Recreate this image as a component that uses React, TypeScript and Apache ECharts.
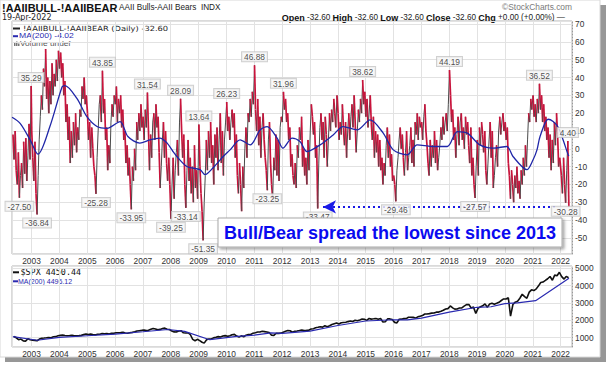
import React, { useEffect, useRef } from "react";
import * as echarts from "echarts";

// ---- AAII Bulls - Bears spread, read roughly every two weeks per calendar year ----
const spread2002 = [8, -6, 10, -12, -20, -2, -27.5, -15, -8, -22, 4, -14, 6, -18, -4, 14, -6, 35.29];
const spread2003 = [10, -5, -18, 4, -25, -36.84, -15, 5, 18, 30, 22, 45, 35, 56, 28, 40, 20, 38, 25, 48, 30, 42, 35, 50, 38, 55];
const spread2004 = [45, 54, 40, 48, 30, 38, 15, 25, 5, 18, -8, 10, -5, 15, 2, 20, -2, 12, 5, 22, 18, 35, 28, 40, 25, 30];
const spread2005 = [20, 5, 15, -5, 12, 0, -10, -15, -25.28, -5, 10, 25, 30, 15, 43.85, 20, 28, 5, 12, -12, 2, -8, 15, 25, 18, 30];
const spread2006 = [25, 35, 15, 28, 20, 30, 12, 22, 5, 10, -8, 2, -15, -5, -20, -33.95, -10, -18, 0, -12, 15, 5, 20, 10, 25, 12];
const spread2007 = [18, 5, 22, 12, 31.54, 10, -12, 8, -5, 15, 20, 5, 25, 12, 18, -2, -22, -10, 5, 15, -5, 10, -8, -18, -5, -20];
const spread2008 = [-39.25, -20, -5, -28, -12, -2, 5, -15, 15, 28.09, 10, -5, 8, -20, -33.14, -12, 5, -18, -5, -25, -10, -30, 2, -22, -12, -28];
const spread2009 = [13.64, -10, -25, -35, -51.35, -30, -15, 5, -12, 10, -5, 15, -8, 2, -20, 8, -5, 12, -12, 5, 20, -8, 10, -15, 5, 15];
const spread2010 = [26.23, 10, 18, 5, 15, 22, 12, 20, -5, 8, -15, -25, -8, -20, -35, -10, -22, 0, 12, -5, 20, 15, 28, 18, 32, 25];
const spread2011 = [46.88, 22, 10, 28, 2, 18, -5, 12, 20, 5, -5, -12, -23.25, 5, 15, -8, -20, -28, -5, -12, 8, -15, 5, -18, 12, 18];
const spread2012 = [15, 31.96, 22, 28, 15, 20, 5, 12, -10, -3, -15, -20, -8, -22, 2, -5, 12, 5, 18, -10, 0, -15, -5, -20, 5, -12];
const spread2013 = [10, 25, 18, 8, 15, -5, 2, -33.47, -8, 12, 20, 5, 15, -5, 18, 8, -10, 5, 20, 10, 22, 15, 28, 20, 12, 30];
const spread2014 = [20, 5, 15, 8, 25, 12, 2, 15, -5, 10, 20, 5, 18, 25, 12, 30, 15, -2, 10, 22, 15, 28, 20, 38.62, 25, 32];
const spread2015 = [18, 28, 12, 20, 30, 15, 5, 18, -5, 10, -2, 8, -10, 5, -12, -5, -20, -8, -15, 2, 12, -5, 8, -10, -3, -18];
const spread2016 = [-15, -20, -29.46, -12, -5, 5, 12, 0, 8, -5, -15, -2, 10, -12, -5, 2, 12, -8, 5, -10, 15, 8, 20, 5, 18, 12];
const spread2017 = [15, 5, 18, 25, 10, 2, -8, -15, 5, -10, 2, -5, 10, -8, 5, -12, -5, 2, 12, 5, 18, 8, 15, 20, 10, 25];
const spread2018 = [44.19, 30, 15, 22, 5, 12, -5, 8, 18, 2, 15, 20, 5, 12, 0, 18, 8, 15, 2, -8, 12, -15, -5, -20, -27.57, -10];
const spread2019 = [5, -15, 12, 2, 15, 8, -2, 10, -12, -20, -8, 5, 15, -5, 10, -22, -15, -5, 2, -10, 10, 18, 8, 15, 20, 10];
const spread2020 = [15, 5, 12, -8, -15, -28, -12, -20, -30, -15, -22, -10, -25, -18, -28, -12, -20, -5, -15, 2, -10, 5, 20, 15, 28, 22];
const spread2021 = [30, 18, 25, 15, 28, 20, 36.52, 22, 30, 15, 25, 10, 18, 5, 12, -5, 8, -12, 5, -8, 15, 2, 20, 8, -10, -5];
const spread2022 = [-15, -25, -5, -20, -30.28, -12, 4.4, -32.6];

const spreadByYear: [number, number[]][] = [
  [2002, spread2002], [2003, spread2003], [2004, spread2004], [2005, spread2005],
  [2006, spread2006], [2007, spread2007], [2008, spread2008], [2009, spread2009],
  [2010, spread2010], [2011, spread2011], [2012, spread2012], [2013, spread2013],
  [2014, spread2014], [2015, spread2015], [2016, spread2016], [2017, spread2017],
  [2018, spread2018], [2019, spread2019], [2020, spread2020], [2021, spread2021],
  [2022, spread2022],
];
// first reading (day of year) for partial years; full years start Jan 4
const spreadFirstDay: Record<number, number> = { 2002: 122, 2022: 10 };

// MA(200) of the spread (decimal year, value)
const spreadMaYears = [2002.3, 2002.59, 2002.95, 2003.23, 2003.66, 2004.1, 2004.2, 2004.63, 2004.99, 2005.35, 2005.71, 2006.18, 2006.46, 2006.89, 2007.25, 2007.61, 2007.87, 2008.08, 2008.22, 2008.58, 2009.05, 2009.23, 2009.52, 2009.88, 2010.13, 2010.49, 2010.85, 2011.21, 2011.46, 2011.82, 2012.03, 2012.36, 2012.64, 2012.89, 2013.36, 2013.83, 2014.19, 2014.69, 2015.16, 2015.63, 2015.99, 2016.49, 2016.85, 2017.42, 2017.93, 2018.29, 2018.65, 2019.1, 2019.57, 2020.07, 2020.29, 2020.79, 2021.01, 2021.15, 2021.26, 2021.55, 2021.73, 2021.91, 2022.09, 2022.27, 2022.3];
const spreadMaValues = [17.7, 14.3, 5.0, -3.0, 12.5, 34.8, 35.5, 28.3, 18, 12.5, 11.5, 15.3, 6.9, 3.2, 5, 6, 3.2, -1.5, -4.3, -9.9, -11.7, -14.5, -10.6, -4.3, -0.6, 5, 2.2, 10.6, 12.5, 6, 0.4, 6, 4.1, -1.5, 2.2, 7.8, 12.5, 10.6, 16.2, 8.8, -0.6, -3.4, 2.2, 1.3, 1.3, 9.7, 8.8, 2.2, 0.4, 1.3, -4.3, -11.7, -6.1, -0.6, 6.9, 16.6, 15.3, 12.1, 5, -3.4, -4.02];

// zig-zag callouts shown on the chart
const calloutValues = [35.29, 43.85, 31.54, 28.09, 13.64, 26.23, 46.88, 31.96, 38.62, 44.19, 36.52, 4.4,
  -27.5, -36.84, -25.28, -33.95, -39.25, -33.14, -51.35, -23.25, -33.47, -29.46, -27.57, -30.28];

// ---- S&P 500 monthly ----
const spx2002 = [1067, 990, 880, 916, 815, 800, 936, 880];
const spx2003 = [855, 841, 820, 916, 963, 975, 990, 1008, 996, 1050, 1058, 1112];
const spx2004 = [1131, 1145, 1126, 1107, 1121, 1141, 1101, 1104, 1115, 1130, 1174, 1212];
const spx2005 = [1181, 1204, 1181, 1157, 1192, 1191, 1234, 1220, 1229, 1207, 1249, 1248];
const spx2006 = [1280, 1281, 1295, 1311, 1270, 1250, 1277, 1304, 1336, 1378, 1401, 1418];
const spx2007 = [1438, 1407, 1421, 1482, 1531, 1503, 1455, 1474, 1527, 1549, 1481, 1468];
const spx2008 = [1379, 1331, 1323, 1386, 1400, 1280, 1267, 1283, 1166, 900, 820, 903];
const spx2009 = [826, 735, 683, 873, 919, 919, 987, 1021, 1057, 1036, 1096, 1115];
const spx2010 = [1074, 1104, 1169, 1187, 1089, 1031, 1102, 1049, 1141, 1183, 1181, 1258];
const spx2011 = [1286, 1327, 1326, 1364, 1345, 1321, 1292, 1140, 1131, 1253, 1247, 1258];
const spx2012 = [1312, 1366, 1408, 1398, 1310, 1362, 1379, 1407, 1441, 1412, 1416, 1426];
const spx2013 = [1498, 1515, 1569, 1598, 1631, 1606, 1686, 1633, 1682, 1757, 1806, 1848];
const spx2014 = [1783, 1859, 1872, 1884, 1924, 1960, 1931, 2003, 1972, 2018, 2068, 2059];
const spx2015 = [1995, 2105, 2068, 2086, 2107, 2063, 2104, 1900, 1920, 2079, 2080, 2044];
const spx2016 = [1880, 1850, 2060, 2065, 2097, 2099, 2174, 2171, 2168, 2126, 2199, 2239];
const spx2017 = [2279, 2364, 2363, 2384, 2412, 2423, 2470, 2472, 2519, 2575, 2648, 2674];
const spx2018 = [2824, 2714, 2641, 2648, 2705, 2718, 2816, 2902, 2914, 2712, 2760, 2400];
const spx2019 = [2704, 2784, 2834, 2946, 2752, 2942, 2980, 2926, 2977, 3038, 3141, 3231];
const spx2020 = [3226, 3300, 2237, 2912, 3044, 3100, 3271, 3500, 3363, 3270, 3622, 3756];
const spx2021 = [3714, 3811, 3973, 4181, 4204, 4298, 4395, 4523, 4308, 4605, 4567, 4766];
const spx2022 = [4516, 4374, 4530, 4450.44];

const spxByYear: [number, number[]][] = [
  [2002, spx2002], [2003, spx2003], [2004, spx2004], [2005, spx2005], [2006, spx2006],
  [2007, spx2007], [2008, spx2008], [2009, spx2009], [2010, spx2010], [2011, spx2011],
  [2012, spx2012], [2013, spx2013], [2014, spx2014], [2015, spx2015], [2016, spx2016],
  [2017, spx2017], [2018, spx2018], [2019, spx2019], [2020, spx2020], [2021, spx2021],
  [2022, spx2022],
];
const spxFirstMonth: Record<number, number> = { 2002: 4 };

const spxMaYears = [2002.33, 2003.2, 2004.0, 2005.0, 2006.0, 2007.0, 2007.9, 2008.5, 2009.4, 2010.3, 2011.0, 2011.6, 2012.0, 2013.0, 2014.0, 2015.0, 2016.0, 2016.5, 2017.0, 2018.0, 2019.0, 2019.5, 2020.0, 2020.45, 2021.1, 2022.3];
const spxMaValues = [1060, 850, 1010, 1110, 1200, 1340, 1470, 1360, 880, 1060, 1150, 1270, 1240, 1380, 1700, 1960, 2030, 2020, 2120, 2470, 2750, 2780, 2960, 3000, 3130, 4420];

const DAY = 86400000;
const decToTime = (y: number) => {
  const yr = Math.floor(y);
  return Date.UTC(yr, 0, 1) + (y - yr) * 365.25 * DAY;
};

const arrowFrom = Date.UTC(2013, 5, 20);
const arrowTo = Date.UTC(2021, 10, 15);
const xMin = Date.UTC(2002, 3, 20);
const xMax = Date.UTC(2022, 4, 30);

const SANS = "'Liberation Sans', Arial, sans-serif";
const DEJAVU = "'DejaVu Sans', Verdana, sans-serif";
const MONO = "'DejaVu Sans Mono', 'Liberation Mono', monospace";

export default function App() {
  const ref = useRef<HTMLDivElement>(null);

  useEffect(() => {
    if (!ref.current) return;
    const chart = echarts.init(ref.current, undefined, { renderer: "svg" });

    const spreadPoints: [number, number][] = [];
    spreadByYear.forEach(([yr, vals]) => {
      const first = spreadFirstDay[yr] ?? 3;
      vals.forEach((v, k) => spreadPoints.push([Date.UTC(yr, 0, 1) + (first + 14 * k) * DAY, v]));
    });
    const segData = spreadPoints.slice(1).map((p, i) => [p[0], p[1], spreadPoints[i][0], spreadPoints[i][1]]);
    const callouts = spreadPoints
      .map((p, i) => ({ p, i }))
      .filter(({ p }) => calloutValues.includes(p[1]))
      .map(({ p, i }) => {
        const prev = i > 0 ? spreadPoints[i - 1][1] : p[1] - 1;
        const isPeak = p[1] > prev;
        return { value: p, label: { position: isPeak ? "top" : "bottom" } };
      });
    const lastSpread = spreadPoints[spreadPoints.length - 1][1];

    const spxPoints: [number, number][] = [];
    spxByYear.forEach(([yr, vals]) => {
      const m0 = spxFirstMonth[yr] ?? 0;
      vals.forEach((v, k) => spxPoints.push([Date.UTC(yr, m0 + k, 15), v]));
    });

    const axisFont = { fontSize: 8.4, color: "#333", fontFamily: SANS };
    const xCommon = {
      type: "time" as const,
      min: xMin,
      max: xMax,
      splitNumber: 20,
      minInterval: 365 * DAY,
      maxInterval: 366 * DAY,
      axisLine: { show: false },
      axisTick: { show: false },
      splitLine: { show: true, lineStyle: { color: "#e2e2e2", width: 1 } },
      axisLabel: { ...axisFont, margin: 3, formatter: "{yyyy}", showMinLabel: false, showMaxLabel: false },
    };
    const plainNum = (v: number) => String(v);

    const option: any = {
      animation: false,
      grid: [
        { left: 12, right: 37, top: 21, height: 233, show: true, borderColor: "#b4b4b4", borderWidth: 1, backgroundColor: "#fff" },
        { left: 12, right: 37, top: 266, height: 81, show: true, borderColor: "#b4b4b4", borderWidth: 1, backgroundColor: "#fff" },
      ],
      xAxis: [
        { ...xCommon, gridIndex: 0 },
        { ...xCommon, gridIndex: 1 },
      ],
      yAxis: [
        {
          type: "value", gridIndex: 0, position: "right", min: -59, max: 71.7,
          minInterval: 10, maxInterval: 10,
          axisLine: { show: true, lineStyle: { color: "#9a9a9a", type: [1, 2] } },
          axisTick: { show: false },
          splitLine: { show: true, lineStyle: { color: "#e2e2e2" } },
          axisLabel: { ...axisFont, margin: 3, showMinLabel: false, showMaxLabel: false, formatter: plainNum },
        },
        {
          type: "value", gridIndex: 1, position: "right", min: 460, max: 5130,
          minInterval: 1000, maxInterval: 1000,
          axisLine: { show: true, lineStyle: { color: "#9a9a9a", type: [1, 2] } },
          axisTick: { show: false },
          splitLine: { show: true, lineStyle: { color: "#e2e2e2" } },
          axisLabel: { ...axisFont, margin: 3, showMinLabel: false, showMaxLabel: false, formatter: plainNum },
        },
      ],
      series: [
        {
          type: "custom",
          xAxisIndex: 0,
          yAxisIndex: 0,
          dimensions: [{ name: "t", type: "time" }, "v", { name: "tp", type: "time" }, "vp"],
          encode: { x: [0, 2], y: [1, 3] },
          data: segData,
          renderItem: (_params: any, api: any) => {
            const a = api.coord([api.value(2), api.value(3)]);
            const b = api.coord([api.value(0), api.value(1)]);
            const up = api.value(1) >= api.value(3);
            return {
              type: "line",
              shape: { x1: a[0], y1: a[1], x2: b[0], y2: b[1] },
              style: { stroke: up ? "#4a4a4a" : "#c8143c", lineWidth: up ? 1 : 1.7 },
            };
          },
          z: 2,
        },
        {
          type: "line",
          xAxisIndex: 0,
          yAxisIndex: 0,
          data: spreadMaYears.map((y, i) => [decToTime(y), spreadMaValues[i]]),
          showSymbol: false,
          smooth: 0.3,
          lineStyle: { color: "#1f26a8", width: 1.3 },
          z: 3,
          markLine: {
            silent: true,
            symbol: ["arrow", "none"],
            symbolSize: [10, 13],
            label: { show: false },
            lineStyle: { color: "#1a1ae6", width: 2.2, type: [2, 3] },
            data: [[{ coord: [arrowFrom, lastSpread] }, { coord: [arrowTo, lastSpread] }]],
          },
        },
        {
          type: "scatter",
          xAxisIndex: 0,
          yAxisIndex: 0,
          symbolSize: 0,
          data: callouts,
          z: 5,
          label: {
            show: true,
            formatter: (p: any) => Number(p.value[1]).toFixed(2),
            fontSize: 8.4,
            fontFamily: SANS,
            color: "#222",
            backgroundColor: "#f6f6f6",
            borderColor: "#c4c4c4",
            borderWidth: 1,
            padding: [1, 2, 0, 2],
            distance: 4,
          },
        },
        {
          type: "line",
          xAxisIndex: 1,
          yAxisIndex: 1,
          data: spxPoints,
          showSymbol: false,
          lineStyle: { color: "#111", width: 1.6 },
          z: 2,
        },
        {
          type: "line",
          xAxisIndex: 1,
          yAxisIndex: 1,
          data: spxMaYears.map((y, i) => [decToTime(y), spxMaValues[i]]),
          showSymbol: false,
          lineStyle: { color: "#2a2ab0", width: 1.2 },
          z: 3,
        },
      ],
      graphic: [
        // frame with drop shadow
        { type: "rect", z: -20, shape: { x: 5, y: 5, width: 601, height: 357 }, style: { fill: "#979797" } },
        { type: "rect", z: -19, shape: { x: 0, y: 0, width: 600, height: 357 }, style: { fill: "#fff", stroke: "#d8d8d8" } },
        // header
        { type: "text", x: 2, y: 7.5, style: { text: "!AAIIBULL-!AAIIBEAR", font: `bold 11px ${SANS}`, fill: "#111", verticalAlign: "middle" } },
        { type: "text", x: 119, y: 7.5, style: { text: "AAII Bulls-AAII Bears  INDX", font: `8.2px ${SANS}`, fill: "#222", verticalAlign: "middle" } },
        { type: "text", x: 2, y: 17.5, style: { text: "19-Apr-2022", font: `8px ${DEJAVU}`, fill: "#222", verticalAlign: "middle" } },
        { type: "text", x: 572, y: 7, style: { text: "©StockCharts.com", font: `8.4px ${SANS}`, fill: "#7a7a7a", align: "right", verticalAlign: "middle" } },
        {
          type: "text", x: 565, y: 17.5,
          style: {
            text: "{b|Open} -32.60 {b|High} -32.60 {b|Low} -32.60 {b|Close} -32.60 {b|Chg} +0.00 (+0.00%) —",
            font: `8.2px ${SANS}`, fill: "#222", align: "right", verticalAlign: "middle",
            rich: { b: { fontWeight: "bold", fontSize: 9, fontFamily: SANS, fill: "#111" } },
          },
        },
        // top legend
        { type: "rect", shape: { x: 13, y: 27.5, width: 7, height: 2 }, style: { fill: "#222" } },
        { type: "text", x: 23, y: 28.5, scaleY: 0.85, style: { text: "!AAIIBULL-!AAIIBEAR (Daily) -32.60", font: `8.3px ${DEJAVU}`, fill: "#222", verticalAlign: "middle" } },
        { type: "rect", shape: { x: 13, y: 35.2, width: 5, height: 2 }, style: { fill: "#2a2ab0" } },
        { type: "text", x: 19, y: 36.2, scaleY: 0.85, style: { text: "MA(200) -4.02", font: `8.6px ${SANS}`, fill: "#2a2ab0", verticalAlign: "middle" } },
        { type: "rect", shape: { x: 14, y: 42.5, width: 1.5, height: 3.5 }, style: { fill: "#777" } },
        { type: "rect", shape: { x: 16, y: 41.5, width: 1.5, height: 4.5 }, style: { fill: "#777" } },
        { type: "rect", shape: { x: 18, y: 43.5, width: 1.5, height: 2.5 }, style: { fill: "#777" } },
        { type: "text", x: 20, y: 44, scaleY: 0.85, style: { text: "Volume undef", font: `8.3px ${SANS}`, fill: "#555", verticalAlign: "middle" } },
        // bottom legend
        { type: "rect", shape: { x: 13, y: 271.3, width: 6, height: 2 }, style: { fill: "#111" } },
        { type: "text", x: 20.5, y: 272.3, style: { text: "$SPX 4450.44", font: `8.4px ${MONO}`, fill: "#111", verticalAlign: "middle" } },
        { type: "rect", shape: { x: 13, y: 280.3, width: 5, height: 2 }, style: { fill: "#2a2ab0" } },
        { type: "text", x: 18, y: 281.3, style: { text: "MA(200) 4496.12", font: `7px ${SANS}`, fill: "#2a2ab0", verticalAlign: "middle" } },
        // annotation
        {
          type: "rect", z: 100,
          shape: { x: 218, y: 218, width: 344, height: 29 },
          style: { fill: "#fff", stroke: "#a8a8a8", lineWidth: 1, shadowBlur: 3, shadowOffsetX: 2, shadowOffsetY: 2, shadowColor: "rgba(0,0,0,0.35)" },
        },
        {
          type: "text", z: 101, x: 390, y: 233,
          style: { text: "Bull/Bear spread the lowest since 2013", font: `bold 18px ${SANS}`, fill: "#0a0aef", align: "center", verticalAlign: "middle" },
        },
      ],
    };

    chart.setOption(option);
    return () => chart.dispose();
  }, []);

  return <div ref={ref} style={{ position: "fixed", left: 0, top: 0, width: 609, height: 365, background: "#fff" }} />;
}
